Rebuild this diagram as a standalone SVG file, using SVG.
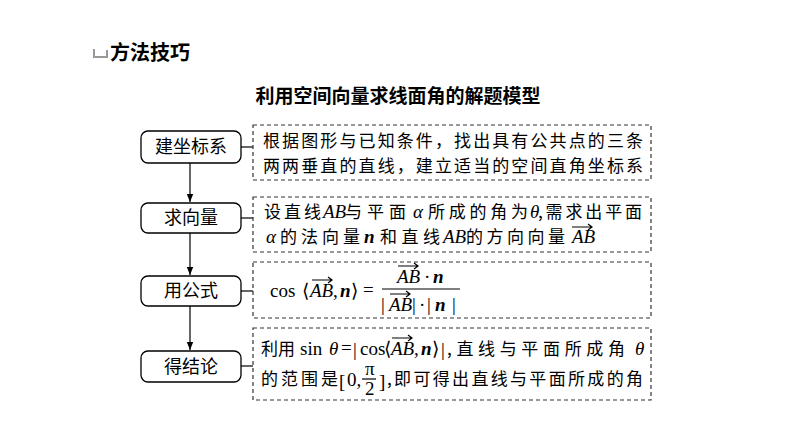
<svg xmlns="http://www.w3.org/2000/svg" width="794" height="447" viewBox="0 0 794 447">
<style>
.cj{font-family:"Noto Sans CJK SC","Liberation Sans",sans-serif;fill:#000}
.t{font-size:17px}
.m{font-family:"Liberation Serif","DejaVu Serif",serif;font-size:19px}
.mi{font-style:italic}
.b{font-weight:bold}
.nb{fill:#fff;stroke:#000;stroke-width:1.3}
.db{fill:#fff;stroke:#333;stroke-width:1.2;stroke-dasharray:4 3}
.ln{stroke:#000;stroke-width:1.2;fill:none}
</style>
<defs>
<marker id="a" viewBox="0 0 10 10" refX="10" refY="5" markerWidth="7" markerHeight="7" orient="auto"><path d="M0,1L10,5L0,9z" fill="#000"/></marker>
<path id="v" d="M0,0 L20,0 M16,-3 L20,0 L16,3" stroke="#000" stroke-width="1.2" fill="none"/>
</defs>
<rect width="794" height="447" fill="#fff"/>
<g id="header">
<path d="M93,58 L93,49 L95,49 L95,56 L106,56 L106,50 L108,50 L108,58 Z" fill="#999"/>
<text x="110" y="60" class="cj b" font-size="20">方法技巧</text>
<text x="398" y="103" class="cj b" font-size="19" text-anchor="middle">利用空间向量求线面角的解题模型</text>
</g>
<g id="connectors">
<line class="ln" x1="190" y1="163" x2="190" y2="202" marker-end="url(#a)"/>
<line class="ln" x1="190" y1="233" x2="190" y2="275" marker-end="url(#a)"/>
<line class="ln" x1="190" y1="306" x2="190" y2="350" marker-end="url(#a)"/>
<line class="ln" x1="241" y1="147" x2="253" y2="147"/>
<line class="ln" x1="241" y1="218" x2="253" y2="218"/>
<line class="ln" x1="241" y1="291" x2="253" y2="291"/>
<line class="ln" x1="241" y1="366" x2="253" y2="366"/>
</g>
<g id="n1"><rect class="nb" x="141" y="131" width="100" height="32" rx="7"/><text x="191" y="153" class="cj" font-size="18" text-anchor="middle">建坐标系</text></g>
<g id="n2"><rect class="nb" x="141" y="203" width="100" height="30" rx="7"/><text x="191" y="224" class="cj" font-size="18" text-anchor="middle">求向量</text></g>
<g id="n3"><rect class="nb" x="141" y="276" width="100" height="30" rx="7"/><text x="191" y="297" class="cj" font-size="18" text-anchor="middle">用公式</text></g>
<g id="n4"><rect class="nb" x="141" y="351" width="100" height="31" rx="7"/><text x="191" y="373" class="cj" font-size="18" text-anchor="middle">得结论</text></g>
<g id="d1"><rect class="db" x="253" y="125" width="398" height="55"/>
<text x="263" y="147" class="cj t" textLength="380">根据图形与已知条件，找出具有公共点的三条</text>
<text x="263" y="172" class="cj t" textLength="380">两两垂直的直线，建立适当的空间直角坐标系</text></g>
<g id="d2"><rect class="db" x="253" y="197" width="398" height="55"/>
<text x="264" y="218" class="cj t" textLength="57">设直线</text>
<text x="323" y="218" class="m mi" font-size="17">AB</text>
<text x="345" y="218" class="cj t" textLength="61">与平面</text>
<text x="413" y="218" class="m mi">α</text>
<text x="428" y="218" class="cj t" textLength="100">所成的角为</text>
<text x="530" y="218" class="m mi" font-size="17">θ</text>
<text x="538" y="218" class="cj t" textLength="104">,需求出平面</text>
<text x="266" y="243" class="m mi">α</text>
<text x="280" y="243" class="cj t" textLength="80">的法向量</text>
<text x="364" y="243" class="m mi b">n</text>
<text x="380" y="243" class="cj t" textLength="60">和直线</text>
<text x="443" y="243" class="m mi" font-size="17">AB</text>
<text x="466" y="243" class="cj t" textLength="99">的方向向量</text>
<text x="572" y="243" class="m mi" font-size="17">AB</text>
<use href="#v" x="572" y="227"/></g>
<g id="d3"><rect class="db" x="253" y="262" width="398" height="56"/>
<text x="270" y="297" class="m">cos</text>
<text x="302" y="297" class="m" font-family="DejaVu Serif">⟨</text>
<text x="310" y="297" class="m mi">AB</text>
<use href="#v" x="312" y="280"/>
<text x="333" y="297" class="m">,</text>
<text x="340" y="297" class="m mi b">n</text>
<text x="351" y="297" class="m" font-family="DejaVu Serif">⟩</text>
<text x="363" y="296" class="m" font-size="16">=</text>
<line class="ln" x1="382" y1="289" x2="460" y2="289"/>
<text x="397" y="283" class="m mi">AB</text>
<use href="#v" x="398" y="266"/>
<text x="424" y="283" class="m">·</text>
<text x="433" y="283" class="m mi b">n</text>
<text x="381" y="311" class="m">|</text>
<text x="389" y="311" class="m mi">AB</text>
<use href="#v" x="390" y="294"/>
<text x="412" y="311" class="m">|</text>
<text x="419" y="311" class="m">·</text>
<text x="427" y="311" class="m">|</text>
<text x="435" y="311" class="m mi b">n</text>
<text x="452" y="311" class="m">|</text></g>
<g id="d4"><rect class="db" x="253" y="328" width="398" height="72"/>
<text x="261" y="355" class="cj t">利用</text>
<text x="300" y="355" class="m">sin</text>
<text x="329" y="355" class="m mi">θ</text>
<text x="341" y="354" class="m" font-size="16">=</text>
<text x="353" y="356" class="m">|</text>
<text x="360" y="355" class="m">cos</text>
<text x="384" y="355" class="m" font-family="DejaVu Serif">⟨</text>
<text x="391" y="355" class="m mi">AB</text>
<use href="#v" x="392" y="338"/>
<text x="414" y="355" class="m">,</text>
<text x="421" y="355" class="m mi b">n</text>
<text x="432" y="355" class="m" font-family="DejaVu Serif">⟩</text>
<text x="441" y="356" class="m">|</text>
<text x="447" y="355" class="cj t" textLength="178">,直线与平面所成角</text>
<text x="635" y="355" class="m mi">θ</text>
<text x="261" y="385" class="cj t" textLength="77">的范围是</text>
<text x="339" y="388" class="m" font-size="24">[</text>
<text x="347" y="386" class="m">0,</text>
<text x="365" y="375" class="m" font-size="15">π</text>
<line class="ln" x1="362" y1="379" x2="376" y2="379"/>
<text x="365" y="395" class="m" font-size="15">2</text>
<text x="379" y="388" class="m" font-size="24">]</text>
<text x="387" y="385" class="cj t" textLength="256">,即可得出直线与平面所成的角</text></g>
</svg>
